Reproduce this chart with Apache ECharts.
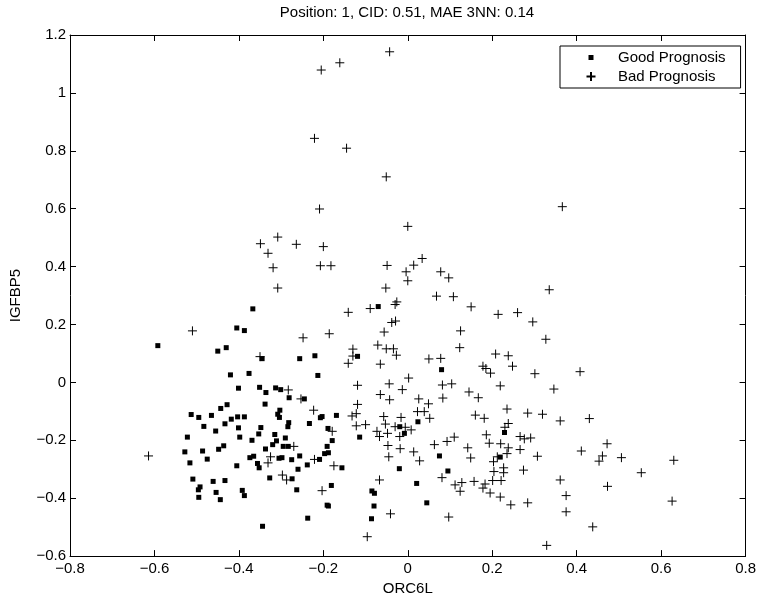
<!DOCTYPE html>
<html>
<head>
<meta charset="utf-8">
<title>Position: 1, CID: 0.51, MAE 3NN: 0.14</title>
<script src="https://cdn.jsdelivr.net/npm/echarts@6/dist/echarts.min.js"></script>
<style>
  html, body { margin: 0; padding: 0; background: #fff; }
  #chart { width: 759px; height: 601px; }
</style>
</head>
<body>
<div id="chart"></div>
<script>
// ===== data =====
const titleText = "Position: 1, CID: 0.51, MAE 3NN: 0.14";
const seriesNames = ["Good Prognosis", "Bad Prognosis"];
const xName = "ORC6L";
const yName = "IGFBP5";
const xTicks = [-0.8, -0.6, -0.4, -0.2, 0, 0.2, 0.4, 0.6, 0.8];
const yTicks = [-0.6, -0.4, -0.2, 0, 0.2, 0.4, 0.6, 0.8, 1, 1.2];

// [ORC6L, IGFBP5]
const goodPoints = [
  [-0.592, 0.127], [-0.367, 0.254], [-0.405, 0.188], [-0.387, 0.179], [-0.450, 0.108],
  [-0.430, 0.120], [-0.345, 0.082], [-0.256, 0.082], [-0.420, 0.026], [-0.376, 0.031],
  [-0.401, -0.020], [-0.351, -0.017], [-0.336, -0.035], [-0.313, -0.019], [-0.301, -0.025],
  [-0.070, 0.262], [-0.220, 0.092], [-0.119, 0.090], [-0.213, 0.024], [0.080, 0.044],
  [-0.245, -0.057], [-0.169, -0.114], [-0.203, -0.118], [-0.207, -0.122], [-0.233, -0.142],
  [-0.189, -0.159], [-0.179, -0.201], [-0.191, -0.221], [-0.188, -0.243], [-0.197, -0.246],
  [-0.209, -0.266], [-0.238, -0.285], [-0.156, -0.295], [-0.114, -0.189], [-0.019, -0.153],
  [-0.008, -0.176], [0.024, -0.136], [0.229, -0.173], [0.075, -0.254], [0.219, -0.258],
  [0.095, -0.306], [-0.020, -0.298], [0.021, -0.349], [-0.181, -0.356], [-0.085, -0.375],
  [-0.079, -0.383], [-0.191, -0.424], [-0.188, -0.427], [-0.080, -0.427], [0.045, -0.416],
  [-0.086, -0.471], [-0.237, -0.469],
  [-0.281, -0.053], [-0.338, -0.075], [-0.428, -0.077], [-0.443, -0.090], [-0.303, -0.096],
  [-0.308, -0.110], [-0.304, -0.121], [-0.513, -0.111], [-0.495, -0.121], [-0.465, -0.114],
  [-0.418, -0.127], [-0.433, -0.143], [-0.403, -0.119], [-0.387, -0.119], [-0.282, -0.139],
  [-0.284, -0.153], [-0.483, -0.152], [-0.401, -0.157], [-0.348, -0.156], [-0.455, -0.168],
  [-0.353, -0.178], [-0.315, -0.180], [-0.522, -0.189], [-0.398, -0.189], [-0.369, -0.200],
  [-0.311, -0.202], [-0.290, -0.192], [-0.320, -0.215], [-0.295, -0.221], [-0.283, -0.221],
  [-0.436, -0.219], [-0.448, -0.231], [-0.337, -0.230], [-0.528, -0.240], [-0.486, -0.237],
  [-0.374, -0.260], [-0.365, -0.255], [-0.305, -0.262], [-0.298, -0.260], [-0.256, -0.254],
  [-0.275, -0.267], [-0.475, -0.265], [-0.516, -0.278], [-0.405, -0.288], [-0.356, -0.280],
  [-0.352, -0.295], [-0.260, -0.300], [-0.509, -0.334], [-0.461, -0.342], [-0.433, -0.339],
  [-0.327, -0.330], [-0.274, -0.333], [-0.492, -0.361], [-0.496, -0.371], [-0.454, -0.380],
  [-0.392, -0.373], [-0.263, -0.371], [-0.495, -0.397], [-0.444, -0.405], [-0.387, -0.391],
  [-0.344, -0.497]
];

const badPoints = [
  [-0.043, 1.142], [-0.161, 1.104], [-0.205, 1.079], [-0.221, 0.843], [-0.145, 0.809],
  [-0.051, 0.710], [-0.209, 0.599],
  [0.366, 0.607], [0.335, 0.320], [0.296, 0.209], [0.327, 0.149], [0.301, 0.030],
  [0.408, 0.037], [0.346, -0.023],
  [-0.349, 0.479], [-0.308, 0.502], [-0.264, 0.477], [-0.331, 0.446], [-0.319, 0.396],
  [-0.308, 0.326], [-0.510, 0.178], [-0.350, 0.089], [-0.283, -0.026],
  [0.000, 0.539], [-0.200, 0.469], [-0.207, 0.403], [-0.182, 0.403], [-0.049, 0.404],
  [0.034, 0.428], [0.014, 0.405], [-0.004, 0.382], [0.000, 0.351], [0.078, 0.382],
  [0.097, 0.361], [-0.052, 0.326], [0.068, 0.298], [0.108, 0.296], [-0.026, 0.278],
  [-0.030, 0.269], [-0.089, 0.255], [0.150, 0.261], [-0.141, 0.242], [0.214, 0.235],
  [0.260, 0.241], [-0.029, 0.212], [-0.038, 0.207], [0.125, 0.178], [-0.056, 0.174],
  [-0.186, 0.168], [-0.248, 0.154], [-0.071, 0.129], [0.123, 0.120], [-0.051, 0.116],
  [-0.034, 0.116], [-0.027, 0.094], [-0.130, 0.115], [-0.130, 0.091], [-0.141, 0.066],
  [-0.065, 0.063], [0.050, 0.081], [0.078, 0.083], [0.208, 0.098], [0.238, 0.092],
  [0.248, 0.056], [0.178, 0.056], [0.185, 0.048], [0.196, 0.032], [0.002, 0.015],
  [-0.044, -0.005], [-0.119, -0.010], [-0.013, -0.025], [0.082, -0.009], [0.104, -0.005],
  [0.219, -0.012], [0.145, -0.033],
  [-0.065, -0.042], [-0.043, -0.060], [0.026, -0.057], [0.049, -0.074], [0.083, -0.054],
  [0.167, -0.053], [-0.119, -0.076], [-0.122, -0.108], [-0.132, -0.116], [-0.223, -0.096],
  [-0.057, -0.118], [-0.016, -0.121], [0.023, -0.101], [0.039, -0.101], [0.052, -0.124],
  [0.160, -0.113], [0.181, -0.124], [0.235, -0.092], [0.284, -0.106], [0.230, -0.155],
  [0.238, -0.142], [-0.122, -0.150], [-0.100, -0.146], [-0.179, -0.169], [-0.053, -0.144],
  [-0.073, -0.169], [-0.067, -0.187], [-0.048, -0.176], [-0.030, -0.153], [-0.019, -0.187],
  [-0.006, -0.155], [0.008, -0.164], [0.186, -0.181], [0.193, -0.210], [0.220, -0.212],
  [0.238, -0.226], [0.266, -0.187], [0.291, -0.192], [0.276, -0.195], [0.266, -0.232],
  [0.307, -0.255], [0.110, -0.189], [0.093, -0.204], [0.063, -0.215], [0.142, -0.226],
  [0.149, -0.261], [-0.047, -0.218], [-0.018, -0.229], [-0.045, -0.257], [0.014, -0.240],
  [0.028, -0.271], [-0.221, -0.266], [-0.175, -0.288], [0.203, -0.274], [0.212, -0.257],
  [0.235, -0.246], [0.204, -0.308], [0.227, -0.295], [0.227, -0.312], [0.274, -0.303],
  [0.081, -0.329], [-0.067, -0.337], [0.112, -0.354], [0.128, -0.346], [0.157, -0.342],
  [0.124, -0.376], [0.178, -0.365], [0.183, -0.351], [0.201, -0.339], [0.221, -0.339],
  [0.195, -0.382], [0.219, -0.396], [0.244, -0.423], [0.284, -0.416], [-0.203, -0.374],
  [-0.041, -0.454], [0.097, -0.465], [-0.096, -0.533],
  [0.319, -0.110], [0.361, -0.133], [0.430, -0.125], [0.472, -0.212], [0.411, -0.237],
  [0.461, -0.254], [0.453, -0.272], [0.506, -0.260], [0.630, -0.269], [0.553, -0.312],
  [0.361, -0.337], [0.473, -0.359], [0.375, -0.391], [0.626, -0.410], [0.375, -0.447],
  [0.438, -0.499], [0.329, -0.563],
  [-0.614, -0.254], [-0.270, -0.221], [-0.325, -0.257], [-0.331, -0.278], [-0.297, -0.320],
  [-0.287, -0.337], [-0.253, -0.057]
];

// ===== symbols =====
const plusPath = "path://M0,5H10M5,0V10";
// square with empty margin so the legend icon stays small
const legendSquare = "path://M0,0L0,0M9,9L9,9M2,2H7V7H2Z";

const fontFamily = "'Liberation Sans', Arial, Helvetica, sans-serif";
const tickFmt = (v) => String(Math.round(v * 10) / 10).replace("-", "\u2212");

const chart = echarts.init(document.getElementById("chart"));

const axisCommon = {
  type: "value",
  axisLine: { show: true, onZero: false, lineStyle: { color: "#000", width: 1 } },
  axisTick: { show: true, inside: true, length: 6, lineStyle: { color: "#000" } },
  splitLine: { show: false }
};

const option = {
  animation: false,
  backgroundColor: "#fff",
  textStyle: { fontFamily },
  title: {
    text: titleText,
    left: 407,
    top: 5,
    padding: 0,
    textAlign: "center",
    textStyle: { fontSize: 15, fontWeight: "normal", color: "#000", fontFamily }
  },
  grid: { left: 69, right: 12, top: 35, bottom: 37 },
  legend: {
    orient: "vertical",
    left: 560,
    top: 46,
    padding: [4, 15, 4, 24],
    itemWidth: 44,
    itemHeight: 9,
    itemGap: 4,
    borderColor: "#000",
    borderWidth: 1,
    backgroundColor: "#fff",
    textStyle: { fontSize: 15, color: "#000", lineHeight: 15, fontFamily },
    data: [
      { name: seriesNames[0], icon: legendSquare },
      { name: seriesNames[1], icon: plusPath }
    ]
  },
  xAxis: [
    Object.assign({}, axisCommon, {
      min: xTicks[0], max: xTicks[xTicks.length - 1], interval: 0.2,
      position: "bottom",
      name: xName, nameLocation: "middle", nameGap: 19,
      nameTextStyle: { fontSize: 15, color: "#000", fontFamily },
      axisLabel: { fontSize: 15, color: "#000", margin: 5, formatter: tickFmt }
    }),
    Object.assign({}, axisCommon, {
      min: xTicks[0], max: xTicks[xTicks.length - 1], interval: 0.2,
      position: "top",
      axisLabel: { show: false }
    })
  ],
  yAxis: [
    Object.assign({}, axisCommon, {
      min: yTicks[0], max: yTicks[yTicks.length - 1], interval: 0.2,
      position: "left",
      name: yName, nameLocation: "middle", nameGap: 47, nameRotate: 90,
      nameTextStyle: { fontSize: 15, color: "#000", fontFamily },
      axisLabel: { fontSize: 15, color: "#000", margin: 4, formatter: tickFmt }
    }),
    Object.assign({}, axisCommon, {
      min: yTicks[0], max: yTicks[yTicks.length - 1], interval: 0.2,
      position: "right",
      axisLabel: { show: false }
    })
  ],
  series: [
    {
      name: seriesNames[0],
      type: "scatter",
      xAxisIndex: 0,
      yAxisIndex: 0,
      symbol: "rect",
      symbolSize: 5,
      itemStyle: { color: "#000", opacity: 1 },
      emphasis: { disabled: true },
      data: goodPoints
    },
    {
      name: seriesNames[1],
      type: "scatter",
      xAxisIndex: 0,
      yAxisIndex: 0,
      symbol: plusPath,
      symbolSize: 9,
      itemStyle: { color: "none", borderColor: "#000", borderWidth: 1, opacity: 1 },
      emphasis: { disabled: true },
      data: badPoints
    }
  ]
};

chart.setOption(option);
</script>
</body>
</html>
